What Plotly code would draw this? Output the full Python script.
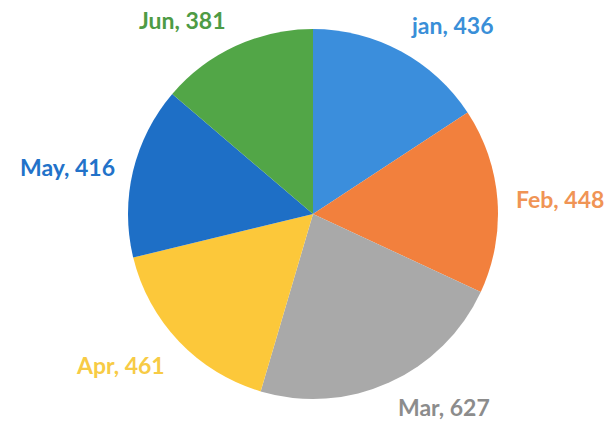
import math
import plotly.graph_objects as go

labels = ["jan", "Feb", "Mar", "Apr", "May", "Jun"]
values = [436, 448, 627, 461, 416, 381]
slice_colors = ["#3B8EDC", "#F2803D", "#A9A9A9", "#FCC83A", "#1E6FC6", "#52A647"]
text_colors = ["#3A8FD8", "#F09455", "#8C8C8C", "#F7CB45", "#2272C9", "#4E9B45"]

W, H = 608, 422
cx, cy, R = 313, 214, 185

fig = go.Figure(go.Pie(
    labels=labels, values=values, sort=False, direction="clockwise", rotation=0,
    marker=dict(colors=slice_colors, line=dict(width=0)),
    textinfo="none", hoverinfo="label+value", showlegend=False,
    domain=dict(x=[(cx - R) / W, (cx + R) / W], y=[1 - (cy + R) / H, 1 - (cy - R) / H]),
))

total = sum(values)
cum = 0
annotations = []
for lab, v, col in zip(labels, values, text_colors):
    mid = (cum + v / 2) / total * 2 * math.pi
    cum += v
    s, c = math.sin(mid), math.cos(mid)
    d = R + 17
    px, py = cx + d * s, cy - d * c
    xa = "left" if s > 0.1 else ("right" if s < -0.1 else "center")
    ya = "bottom" if c > 0.3 else ("top" if c < -0.3 else "middle")
    ys = -5 if ya == "bottom" else (4 if ya == "top" else 0)
    if c < -0.85:
        ys = 7
    annotations.append(dict(
        x=px / W, y=1 - py / H, xref="paper", yref="paper", yshift=ys,
        text=f"<b>{lab}, {v}</b>", showarrow=False, xanchor=xa, yanchor=ya,
        font=dict(family="Lato", size=23, color=col),
    ))

fig.update_layout(
    width=W, height=H, margin=dict(l=0, r=0, t=0, b=0),
    paper_bgcolor="white", plot_bgcolor="white",
    annotations=annotations,
)
fig.write_html("out.html", config={"displayModeBar": False},
               post_script="document.body.style.margin='0';document.body.style.overflow='hidden';")
